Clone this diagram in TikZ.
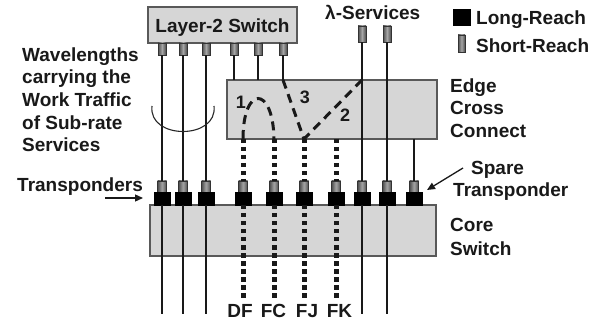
\documentclass[tikz,border=0pt]{standalone}
\usepackage{fontspec}
\setmainfont{Liberation Sans}
\usetikzlibrary{arrows.meta}
\begin{document}
\begin{tikzpicture}[x=1pt,y=-1pt,
  box/.style={draw=black!65,line width=1.2pt,fill=black!16,inner sep=0,outer sep=0},
  srconn/.style={draw=black!80,line width=0.8pt,left color=black!70,right color=black!70,middle color=black!35,inner sep=0,outer sep=0,minimum width=8pt,minimum height=12pt},
  lrconn/.style={fill=black,draw=black,inner sep=0,outer sep=0,minimum width=16pt,minimum height=13pt},
  fibre/.style={line width=2.4pt,black!90},
  subrate/.style={line width=5pt,black!90,dash pattern=on 4.5pt off 3.5pt},
  xc/.style={line width=3pt,black!90,dash pattern=on 9pt off 6pt},
  lbl/.style={font=\fontsize{19}{22.75}\selectfont\bfseries,text=black!90,inner sep=0,anchor=base west},
  pointer/.style={line width=1.3pt,black!90,-{Triangle[length=8pt,width=7pt]}}]
\useasboundingbox (0,0) rectangle (599,320);
% boxes
\node[box,minimum width=149pt,minimum height=36pt] (l2) at (222.5,25) {};
\node[box,minimum width=210pt,minimum height=59pt] (ecc) at (332,109.5) {};
\node[box,minimum width=286pt,minimum height=51pt] (core) at (293,230.5) {};
\node[lbl,anchor=base] (l2t) at (222.5,33) {Layer-2 Switch};
% connectors
\foreach \x [count=\i] in {162,183,206,234,258,283}
  \node[srconn] (s\i) at (\x,49) {};
\node[srconn,minimum height=16pt] (lam1) at (362,34) {};
\node[srconn,minimum height=16pt] (lam2) at (387,34) {};
\foreach \x [count=\i] in {162,183,206,243,274,304,336,362,387,414}{
  \node[srconn,minimum width=9pt,minimum height=11pt] (b\i) at (\x,186.5) {};
  \node[lrconn] (t\i) at (\x,198.5) {};
  \coordinate (e\i) at (\x,314);
  \coordinate (d\i) at (\x,298);
}
% fibres
\foreach \i in {1,2,3} \draw[fibre] (s\i.south) -- (b\i.north);
\foreach \i in {4,5,6} \draw[fibre] (s\i.south) -- (s\i.south |- ecc.north);
\draw[fibre] (lam1.south) -- (b8.north);
\draw[fibre] (lam2.south) -- (b9.north);
\draw[fibre] (b10.north |- ecc.south) -- (b10.north);
\foreach \i in {1,2,3,8,9} \draw[fibre] (t\i.south) -- (e\i);
\foreach \i in {4,5,6,7}{
  \draw[subrate] (b\i.north |- ecc.south) -- (b\i.north);
  \draw[subrate] (t\i.south) -- (d\i);
}
% cross connections
\draw[xc] (b4.north |- ecc.south) .. controls (243,85) and (273,85) .. (b5.north |- ecc.south);
\draw[xc] (s6.south |- ecc.north) -- (b6.north |- ecc.south);
\draw[xc] (lam1.south |- ecc.north) -- (b6.north |- ecc.south);
\node[lbl,anchor=center,font=\fontsize{18}{20}\selectfont\bfseries] (n1) at (241,102) {1};
\node[lbl,anchor=center,font=\fontsize{18}{20}\selectfont\bfseries] (n3) at (305,97) {3};
\node[lbl,anchor=center,font=\fontsize{18}{20}\selectfont\bfseries] (n2) at (345,115) {2};
% bracket
\coordinate (ba) at (152,106);
\coordinate (bb) at (214,106);
\draw[line width=1.1pt,black!85] (ba) .. controls (148,140) and (218,140) .. (bb);
% left texts
\node[lbl] (w1) at (22,62) {Wavelengths};
\node[lbl] (w2) at (22,84) {carrying the};
\node[lbl] (w3) at (22,107) {Work Traffic};
\node[lbl] (w4) at (22,129.5) {of Sub-rate};
\node[lbl] (w5) at (22,152) {Services};
\node[lbl] (tp) at (17,192) {Transponders};
\coordinate (tpa) at (105,198);
\coordinate (tpb) at (143,198);
\draw[pointer] (tpa) -- (tpb);
% top right
\node[lbl] (lam) at (325,20) {λ-Services};
\node[lrconn,minimum width=17pt,minimum height=16pt] (lrleg) at (461.5,17) {};
\node[srconn,minimum width=7pt,minimum height=17pt] (srleg) at (461.5,43.5) {};
\node[lbl] (lrt) at (476,25) {Long-Reach};
\node[lbl] (srt) at (476,53) {Short-Reach};
% right labels
\node[lbl] (ec1) at (450,93) {Edge};
\node[lbl] (ec2) at (450,115) {Cross};
\node[lbl] (ec3) at (450,138) {Connect};
\node[lbl] (sp1) at (471,175) {Spare};
\node[lbl] (sp2) at (453,197) {Transponder};
\coordinate (spa) at (463,168);
\coordinate (spb) at (427,190);
\draw[pointer] (spa) -- (spb);
\node[lbl] (cs1) at (450,232) {Core};
\node[lbl] (cs2) at (450,255) {Switch};
% bottom labels
\node[lbl,anchor=base] (df) at (240,317) {DF};
\node[lbl,anchor=base] (fc) at (273.5,317) {FC};
\node[lbl,anchor=base] (fj) at (307,317) {FJ};
\node[lbl,anchor=base] (fk) at (339.5,317) {FK};
\end{tikzpicture}
\end{document}
